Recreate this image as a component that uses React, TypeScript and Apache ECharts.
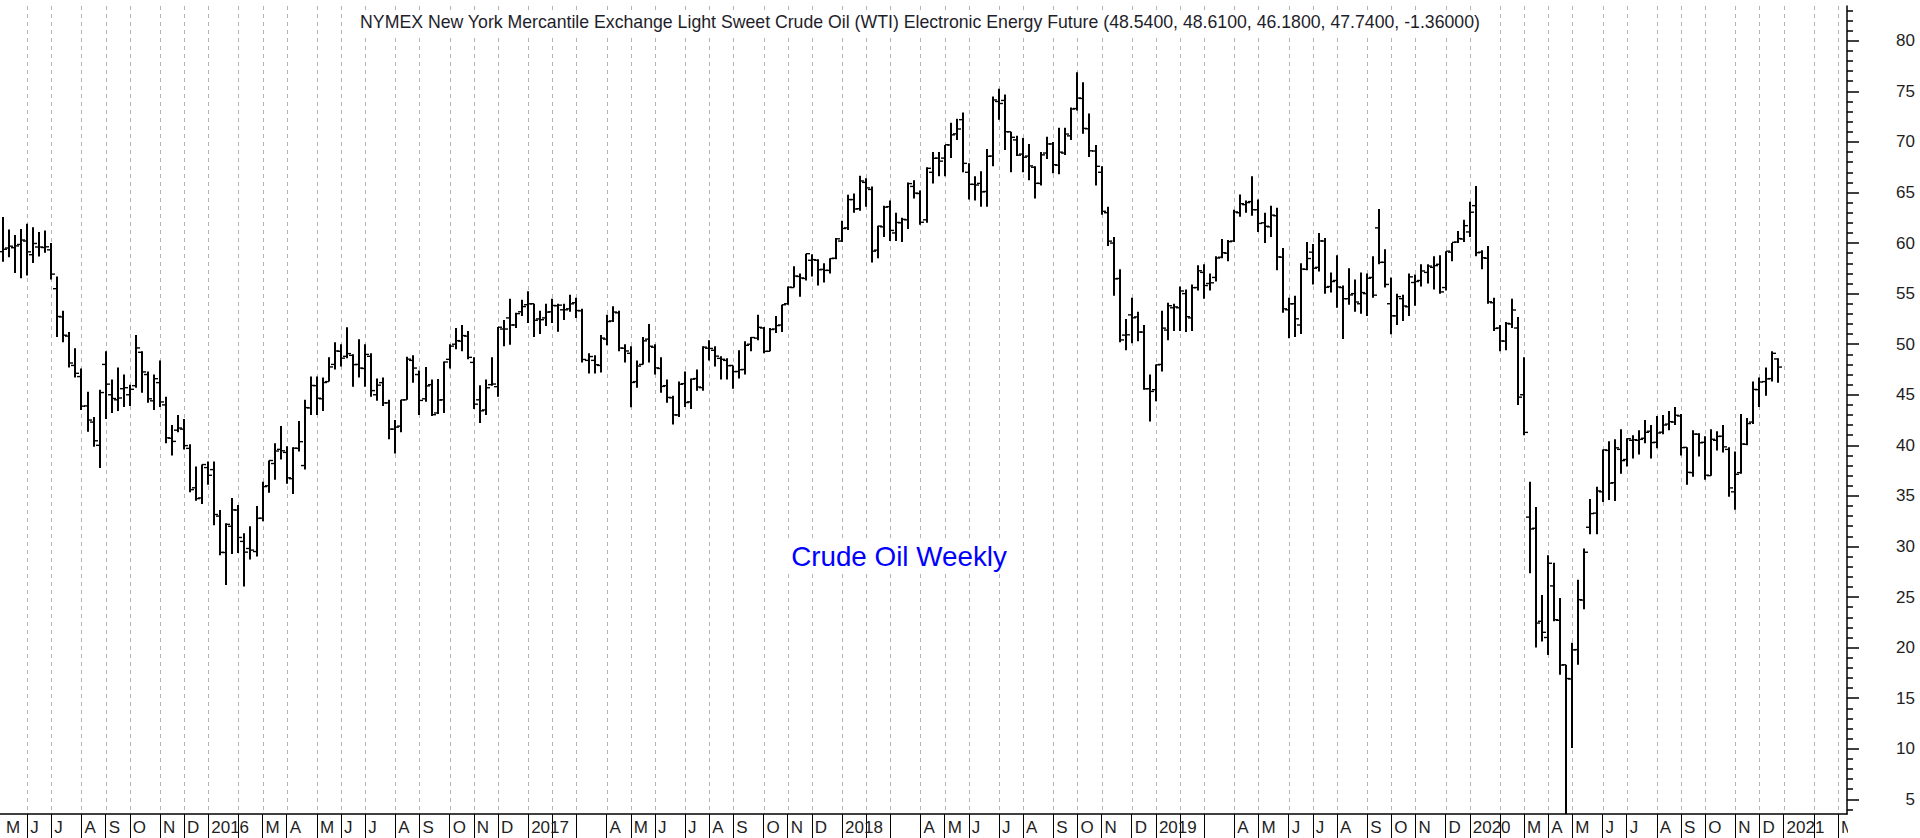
import { useEffect, useRef } from 'react';
import * as echarts from 'echarts';

// ---- categories: weekly bars (week ending Friday) ----
const START_WEEK_UTC = Date.UTC(2015, 4, 8); // week ending 2015-05-08
const WEEK_COUNT = 306; // data weeks + empty weeks up to March 2021

// ---- series values: [open, high, low, close] per week ----
const ohlc2015 = [
  [59.15, 62.58, 58.15, 59.39], [59.51, 61.35, 58.6, 59.69], [59.54, 60.8, 57.05, 59.72], [59.86, 61.4, 56.51, 60.3],
  [60.2, 61.9, 56.8, 59.13], [58.85, 61.57, 58.04, 59.96], [59.61, 61.09, 58.67, 59.61], [59.56, 61.25, 59.03, 59.63],
  [59.33, 60.0, 56.4, 56.93], [55.49, 56.7, 50.7, 52.74], [52.7, 53.3, 50.2, 50.89], [50.8, 51.2, 47.7, 48.14],
  [47.9, 49.6, 46.7, 47.12], [46.8, 47.6, 43.5, 43.87], [43.9, 45.3, 41.35, 42.5], [42.3, 42.8, 39.86, 40.45],
  [40.0, 45.5, 37.75, 45.22], [48.0, 49.3, 42.6, 46.05], [45.0, 46.5, 43.2, 44.63], [44.5, 47.7, 43.4, 44.68],
  [45.6, 47.0, 43.8, 45.7], [45.0, 46.0, 43.9, 45.54], [45.9, 50.9, 45.7, 49.63], [49.2, 49.3, 45.2, 47.26],
  [47.0, 47.3, 44.2, 44.6], [44.4, 47.0, 43.5, 46.59], [46.2, 48.4, 43.8, 44.29], [44.0, 44.8, 40.2, 40.74],
  [40.7, 42.0, 38.99, 40.39], [41.5, 43.0, 41.3, 41.71], [41.6, 42.6, 39.6, 39.97], [39.7, 40.1, 35.35, 35.62],
  [35.8, 37.9, 34.53, 34.73], [34.8, 38.1, 34.2, 38.1],
];
const ohlc2016 = [
  [37.8, 38.4, 36.1, 37.04], [37.6, 38.39, 32.1, 33.16], [33.0, 33.6, 29.13, 29.42], [29.4, 32.3, 26.19, 32.19],
  [32.0, 34.8, 29.25, 33.62], [33.6, 34.1, 29.35, 30.89], [30.5, 31.3, 26.05, 29.44], [29.8, 32.0, 28.7, 29.64],
  [29.5, 34.0, 29.0, 32.78], [32.8, 36.4, 32.5, 35.92], [36.0, 38.5, 35.3, 38.5], [38.2, 40.2, 36.6, 39.44],
  [39.6, 41.9, 38.6, 39.46], [39.3, 39.9, 36.2, 36.79], [36.7, 39.8, 35.2, 39.72], [39.7, 42.4, 39.4, 40.36],
  [38.0, 44.5, 37.6, 43.73], [43.7, 46.8, 43.0, 45.92], [45.9, 46.8, 43.0, 44.66], [44.6, 46.7, 43.4, 46.21],
  [46.3, 48.7, 46.3, 47.75], [48.0, 50.2, 47.5, 49.33], [49.3, 50.0, 47.8, 48.62], [48.8, 51.67, 48.6, 49.07],
  [48.9, 49.0, 45.8, 47.98], [48.0, 50.5, 46.7, 47.64], [47.6, 50.0, 45.8, 48.99], [48.8, 49.1, 44.8, 45.41],
  [45.0, 46.6, 44.4, 45.95], [46.2, 46.7, 43.9, 44.19], [44.2, 44.5, 40.6, 41.6], [41.6, 42.5, 39.19, 41.8],
  [41.9, 44.5, 41.3, 44.49], [44.5, 48.75, 44.5, 48.52], [48.4, 48.9, 46.2, 47.64], [47.0, 47.4, 43.0, 44.44],
  [44.6, 47.75, 44.3, 45.88], [46.0, 46.5, 42.9, 43.03], [43.2, 46.55, 43.1, 44.48], [44.5, 48.3, 43.2, 48.24],
  [48.5, 50.0, 47.6, 49.81], [50.0, 51.6, 49.5, 50.35], [50.3, 51.9, 49.3, 50.85], [50.8, 51.3, 48.5, 48.7],
  [48.2, 48.7, 43.6, 44.07], [44.5, 45.95, 42.2, 43.41], [43.5, 46.5, 43.0, 45.69], [46.0, 48.7, 45.9, 46.06],
  [45.8, 51.7, 44.8, 51.68], [51.5, 52.4, 49.8, 51.5], [52.6, 54.5, 49.95, 51.9], [51.9, 53.1, 51.6, 53.02],
  [53.2, 54.4, 52.8, 53.72],
];
const ohlc2017 = [
  [53.9, 55.24, 52.1, 53.99], [54.0, 54.0, 50.71, 52.37], [52.5, 53.3, 51.0, 52.42], [52.6, 54.0, 51.8, 53.17],
  [53.2, 54.5, 52.1, 53.83], [53.8, 54.0, 51.22, 53.86], [53.4, 54.0, 52.4, 53.4], [53.5, 54.9, 53.2, 53.99],
  [54.1, 54.6, 52.6, 53.33], [53.3, 53.5, 48.2, 48.49], [48.4, 49.1, 47.1, 48.78], [48.4, 48.9, 47.1, 47.97],
  [47.9, 50.9, 47.2, 50.6], [50.5, 52.9, 49.9, 52.24], [52.3, 53.76, 52.2, 53.18], [53.1, 53.3, 49.3, 49.62],
  [49.6, 50.0, 48.2, 49.33], [49.1, 49.8, 43.76, 46.22], [46.3, 48.4, 45.7, 47.84], [48.0, 50.7, 48.0, 50.33],
  [50.5, 52.0, 48.2, 49.8], [49.7, 50.0, 47.0, 47.66], [47.6, 48.7, 45.2, 45.83], [45.9, 46.5, 44.2, 44.74],
  [44.7, 44.9, 42.05, 43.01], [43.0, 46.3, 42.8, 46.04], [46.1, 47.3, 43.8, 44.23], [44.3, 46.6, 43.6, 46.54],
  [46.6, 47.5, 45.4, 45.77], [45.7, 49.8, 45.4, 49.71], [49.6, 50.4, 48.4, 49.58], [49.4, 49.8, 47.8, 48.82],
  [48.6, 48.8, 46.5, 48.51], [48.4, 48.6, 46.5, 47.87], [47.9, 47.9, 45.6, 47.29], [47.3, 49.4, 46.6, 47.48],
  [47.5, 50.3, 47.0, 49.89], [50.0, 50.7, 49.3, 50.66], [50.6, 52.9, 50.4, 51.67], [51.6, 51.7, 49.1, 49.29],
  [49.3, 51.6, 49.3, 51.45], [51.5, 52.8, 51.1, 51.84], [51.9, 53.9, 51.2, 53.9], [54.0, 55.7, 53.9, 55.64],
  [55.6, 57.7, 55.6, 56.74], [56.7, 57.0, 54.7, 56.55], [56.5, 58.95, 56.3, 58.95], [58.3, 58.9, 56.7, 58.36],
  [58.3, 58.4, 55.8, 57.36], [57.4, 58.0, 56.1, 57.3], [57.3, 58.5, 57.0, 58.47], [58.5, 60.5, 58.4, 60.42],
];
const ohlc2018 = [
  [60.2, 62.21, 60.1, 61.44], [61.5, 64.77, 61.3, 64.3], [64.3, 64.89, 63.0, 63.37], [63.4, 66.66, 63.2, 66.14],
  [66.0, 66.4, 63.6, 65.45], [65.3, 65.6, 58.07, 59.2], [59.3, 61.7, 58.5, 61.68], [61.6, 63.7, 60.6, 63.55],
  [63.6, 64.2, 60.2, 61.25], [61.0, 63.0, 60.2, 62.04], [62.0, 62.5, 60.1, 62.34], [62.3, 66.0, 61.4, 65.88],
  [65.6, 66.2, 64.4, 64.94], [64.9, 65.2, 61.8, 62.06], [62.3, 67.5, 62.0, 67.39], [67.0, 69.0, 65.9, 68.38],
  [68.4, 69.0, 66.6, 68.1], [68.4, 69.7, 66.6, 69.72], [69.7, 71.9, 68.4, 70.7], [70.8, 72.3, 70.2, 71.28],
  [72.2, 72.9, 67.0, 67.88], [67.0, 67.9, 64.3, 65.81], [65.8, 66.6, 64.2, 65.74], [65.9, 67.1, 63.6, 65.06],
  [65.1, 69.3, 63.6, 68.58], [68.6, 74.5, 67.6, 74.15], [74.0, 75.27, 72.2, 73.8], [74.1, 74.7, 69.2, 71.01],
  [71.0, 71.0, 67.0, 70.46], [70.2, 70.6, 68.6, 68.69], [68.8, 70.4, 67.0, 68.49], [68.6, 69.8, 66.2, 67.63],
  [67.5, 67.6, 64.4, 65.91], [65.9, 69.0, 65.7, 68.72], [68.9, 70.5, 68.3, 69.8], [69.8, 70.0, 66.9, 67.75],
  [67.7, 71.4, 66.8, 68.99], [68.9, 71.4, 68.7, 70.78], [70.6, 73.4, 70.2, 73.25], [73.3, 76.9, 73.1, 74.34],
  [74.3, 75.9, 70.8, 71.34], [71.3, 72.8, 68.5, 69.12], [69.1, 69.7, 65.7, 67.59], [67.0, 67.6, 62.8, 63.14],
  [63.0, 63.6, 59.7, 60.19], [60.0, 60.6, 54.8, 56.46], [56.5, 57.4, 50.2, 50.42], [50.9, 52.5, 49.4, 50.93],
  [52.9, 54.6, 50.1, 52.61], [52.7, 53.2, 50.3, 51.2], [51.2, 51.9, 45.5, 45.59], [45.6, 47.0, 42.36, 45.33],
];
const ohlc2019 = [
  [45.5, 48.0, 44.35, 47.96], [48.0, 53.3, 47.3, 51.59], [51.4, 54.1, 50.4, 53.8], [53.6, 54.0, 51.3, 53.69],
  [53.6, 55.7, 51.3, 55.26], [55.0, 55.4, 51.2, 52.72], [52.6, 55.9, 51.3, 55.59], [55.6, 57.8, 55.3, 57.26],
  [57.1, 57.9, 54.5, 55.8], [56.0, 57.0, 55.3, 56.07], [56.6, 58.7, 56.2, 58.52], [58.6, 60.4, 58.5, 59.04],
  [59.0, 60.3, 58.2, 60.14], [60.2, 63.3, 60.1, 63.08], [63.0, 64.8, 62.6, 63.89], [63.8, 64.2, 63.0, 64.0],
  [64.1, 66.6, 62.7, 63.3], [63.3, 64.3, 61.1, 61.94], [62.0, 63.0, 60.0, 61.66], [61.6, 63.7, 60.6, 62.76],
  [62.7, 63.5, 57.3, 58.63], [58.6, 59.5, 53.1, 53.5], [53.4, 54.6, 50.6, 53.99], [54.0, 54.8, 50.72, 52.51],
  [51.9, 58.0, 51.0, 57.43], [57.4, 60.1, 57.3, 58.47], [59.1, 59.9, 55.9, 57.51], [57.6, 61.0, 57.2, 60.21],
  [60.2, 60.5, 55.0, 55.63], [55.7, 57.1, 55.1, 56.2], [56.3, 58.8, 53.6, 55.66], [55.6, 55.8, 50.52, 54.5],
  [54.5, 57.5, 53.9, 54.87], [55.0, 56.4, 53.2, 54.17], [54.0, 57.1, 53.0, 55.1], [55.0, 57.0, 52.8, 56.52],
  [56.6, 58.7, 54.6, 54.85], [61.5, 63.38, 57.9, 58.09], [58.1, 59.4, 55.6, 55.91], [54.0, 56.6, 50.99, 52.81],
  [52.8, 55.0, 51.9, 54.7], [54.5, 54.9, 52.3, 53.78], [53.7, 57.0, 52.8, 56.66], [56.1, 56.9, 53.8, 56.2],
  [56.3, 57.9, 55.7, 57.24], [57.1, 57.9, 56.0, 57.72], [57.6, 58.7, 55.4, 57.77], [57.9, 58.8, 55.0, 55.17],
  [55.6, 59.2, 55.3, 59.2], [59.1, 60.0, 58.2, 60.07], [60.1, 61.2, 60.0, 60.44], [60.4, 62.3, 60.1, 61.72],
];
const ohlc2020 = [
  [61.1, 64.09, 60.6, 63.05], [63.7, 65.65, 58.7, 59.04], [59.1, 59.3, 57.4, 58.54], [58.5, 59.7, 54.0, 54.19],
  [54.1, 54.6, 51.3, 51.56], [51.6, 51.9, 49.31, 50.32], [50.3, 52.2, 49.4, 52.05], [52.0, 54.5, 51.6, 53.38],
  [51.6, 52.7, 44.0, 44.76], [45.0, 48.7, 41.0, 41.28], [32.9, 36.4, 27.34, 31.73], [31.8, 33.9, 20.0, 22.43],
  [22.6, 25.2, 20.6, 21.51], [21.0, 29.13, 19.27, 28.34], [26.1, 28.4, 22.6, 22.76], [22.7, 24.9, 17.31, 18.27],
  [18.3, 18.3, -40.32, 16.94], [16.9, 20.48, 10.07, 19.78], [19.8, 26.7, 18.3, 24.74], [24.7, 29.8, 23.8, 29.43],
  [31.9, 34.7, 31.2, 33.25], [33.3, 35.9, 31.2, 35.49], [35.4, 39.6, 34.4, 39.55], [39.5, 40.4, 34.6, 36.26],
  [36.3, 40.6, 34.5, 39.75], [39.6, 41.6, 37.2, 38.49], [38.6, 40.7, 37.9, 40.65], [40.5, 41.0, 38.7, 40.55],
  [40.5, 41.5, 39.1, 40.59], [40.7, 42.5, 40.2, 41.29], [41.4, 42.0, 38.7, 40.27], [40.3, 42.9, 39.7, 41.22],
  [41.3, 43.0, 41.1, 42.01], [42.1, 43.4, 41.5, 42.34], [42.3, 43.8, 42.0, 42.97], [42.9, 43.1, 39.0, 39.77],
  [39.8, 39.8, 36.1, 37.33], [37.3, 41.5, 36.9, 41.11], [41.1, 41.2, 38.9, 40.25], [40.3, 40.9, 36.6, 37.05],
  [37.0, 41.6, 37.0, 40.6], [40.5, 41.4, 39.5, 40.88], [40.9, 42.0, 39.3, 39.85], [39.6, 39.8, 34.92, 35.79],
  [35.4, 39.4, 33.64, 37.14], [37.3, 43.1, 37.2, 40.13], [40.1, 42.7, 40.0, 42.15], [42.3, 46.3, 42.1, 45.53],
  [45.5, 46.7, 43.8, 46.26], [46.3, 47.7, 44.9, 46.57], [46.6, 49.3, 46.3, 49.1], [48.54, 48.61, 46.18, 47.74],
];

// ---- tick labels ----
const MONTH_LETTERS = ['J', 'F', 'M', 'A', 'M', 'J', 'J', 'A', 'S', 'O', 'N', 'D'];
const MAJOR_TICKS = [5, 10, 15, 20, 25, 30, 35, 40, 45, 50, 55, 60, 65, 70, 75, 80];
const MINOR_TICKS = [
  4, 6, 7, 8, 9, 11, 12, 13, 14, 16, 17, 18, 19, 21, 22, 23, 24, 26, 27, 28, 29, 31, 32, 33, 34,
  36, 37, 38, 39, 41, 42, 43, 44, 46, 47, 48, 49, 51, 52, 53, 54, 56, 57, 58, 59, 61, 62, 63, 64,
  66, 67, 68, 69, 71, 72, 73, 74, 76, 77, 78, 79, 81, 82, 83,
];
const TITLE_TEXT =
  'NYMEX New York Mercantile Exchange Light Sweet Crude Oil (WTI) Electronic Energy Future (48.5400, 48.6100, 46.1800, 47.7400, -1.36000)';
const NOTE_TEXT = 'Crude Oil Weekly';

const Y_MIN = 3.547;
const Y_MAX = 83.44;

function buildWeeks() {
  const out: { label: string; year: number; month: number }[] = [];
  for (let i = 0; i < WEEK_COUNT; i++) {
    const d = new Date(START_WEEK_UTC + i * 7 * 86400000);
    out.push({ label: d.toISOString().slice(0, 10), year: d.getUTCFullYear(), month: d.getUTCMonth() });
  }
  return out;
}

export default function App() {
  const ref = useRef<HTMLDivElement>(null);

  useEffect(() => {
    if (!ref.current) return;
    const chart = echarts.init(ref.current, undefined, { renderer: 'svg' });

    const weeks = buildWeeks();
    const categories = weeks.map((w) => w.label);
    const tickIdx: number[] = [];
    const labelMap: Record<number, string> = {};
    labelMap[0] = MONTH_LETTERS[weeks[0].month];
    let lastJan = -100;
    for (let i = 1; i < weeks.length; i++) {
      if (weeks[i].month !== weeks[i - 1].month) {
        tickIdx.push(i);
        const m = weeks[i].month;
        if (m === 0) {
          labelMap[i] = String(weeks[i].year);
          lastJan = i;
        } else if (m === 1) {
          labelMap[i] = '';
        } else if (m === 2) {
          labelMap[i] = i - lastJan < 9 ? '' : MONTH_LETTERS[m];
        } else {
          labelMap[i] = MONTH_LETTERS[m];
        }
      }
    }
    const tickSet = new Set(tickIdx);

    const bars = [...ohlc2015, ...ohlc2016, ...ohlc2017, ...ohlc2018, ...ohlc2019, ...ohlc2020].map((b, i) => [
      i,
      b[0],
      b[1],
      b[2],
      b[3],
    ]);
    const gridData = tickIdx.map((i) => [i, Y_MIN]);

    const font = '"Liberation Sans", Arial, sans-serif';
    const textColor = '#1e1e1e';

    chart.setOption({
      animation: false,
      backgroundColor: '#ffffff',
      grid: { left: 0, right: 73, top: 6, bottom: 24, containLabel: false, outerBoundsMode: 'none' },
      xAxis: {
        type: 'category',
        data: categories,
        boundaryGap: true,
        axisLine: { show: true, lineStyle: { color: '#000', width: 1.5 } },
        axisTick: {
          show: true,
          alignWithLabel: true,
          interval: (index: number) => tickSet.has(index),
          length: 24,
          lineStyle: { color: '#000', width: 1 },
        },
        axisLabel: {
          show: true,
          interval: (index: number) => !!labelMap[index],
          formatter: (_v: string, index: number) => labelMap[index] || '',
          align: 'left',
          padding: [0, 0, 0, 3],
          margin: 5,
          fontSize: 17,
          fontFamily: font,
          color: textColor,
        },
        splitLine: { show: false },
      },
      yAxis: [
        {
          type: 'value',
          position: 'right',
          min: Y_MIN,
          max: Y_MAX,
          splitNumber: 16,
          axisLine: { show: true, lineStyle: { color: '#000', width: 1.5 } },
          axisTick: { show: true, inside: false, length: 12, customValues: MAJOR_TICKS, lineStyle: { color: '#000', width: 1.5 } },
          axisLabel: {
            show: true,
            customValues: MAJOR_TICKS,
            align: 'right',
            margin: 68,
            fontSize: 17,
            fontFamily: font,
            color: textColor,
          },
          splitLine: { show: false },
        },
        {
          type: 'value',
          position: 'right',
          min: Y_MIN,
          max: Y_MAX,
          axisLine: { show: false },
          axisTick: { show: true, inside: false, length: 6, customValues: MINOR_TICKS, lineStyle: { color: '#000', width: 1.5 } },
          axisLabel: { show: false },
          splitLine: { show: false },
        },
      ],
      series: [
        {
          type: 'custom',
          name: 'monthGrid',
          data: gridData,
          encode: { x: 0, y: 1 },
          silent: true,
          renderItem: (_p: any, api: any) => {
            const idx = api.value(0);
            const top = api.coord([idx, Y_MAX]);
            const bot = api.coord([idx, Y_MIN]);
            const x = Math.round(top[0]) + 0.5;
            return {
              type: 'line',
              shape: { x1: x, y1: top[1], x2: x, y2: bot[1] },
              style: { stroke: '#b4b4b4', lineWidth: 1, lineDash: [4, 4] },
            };
          },
        },
        {
          type: 'custom',
          name: 'WTI',
          data: bars,
          encode: { x: 0, y: [1, 2, 3, 4] },
          clip: true,
          renderItem: (_p: any, api: any) => {
            const idx = api.value(0);
            const ph = api.coord([idx, api.value(2)]);
            const pl = api.coord([idx, api.value(3)]);
            const po = api.coord([idx, api.value(1)]);
            const pc = api.coord([idx, api.value(4)]);
            const x = Math.round(ph[0]);
            return {
              type: 'group',
              children: [
                { type: 'line', shape: { x1: x, y1: ph[1], x2: x, y2: pl[1] }, style: { stroke: '#000', lineWidth: 2 } },
                { type: 'line', shape: { x1: x - 4, y1: po[1], x2: x, y2: po[1] }, style: { stroke: '#000', lineWidth: 1.4 } },
                { type: 'line', shape: { x1: x, y1: pc[1], x2: x + 4, y2: pc[1] }, style: { stroke: '#000', lineWidth: 1.4 } },
              ],
            };
          },
        },
      ],
      graphic: [
        {
          type: 'text',
          x: 920,
          y: 22,
          z: 100,
          style: {
            text: TITLE_TEXT,
            font: `17.7px ${font}`,
            fill: '#1e1e2a',
            align: 'center',
            verticalAlign: 'middle',
            backgroundColor: '#ffffff',
            padding: [3, 4],
          },
        },
        {
          type: 'text',
          x: 899,
          y: 556,
          z: 100,
          style: {
            text: NOTE_TEXT,
            font: `27.8px ${font}`,
            fill: '#0000ff',
            align: 'center',
            verticalAlign: 'middle',
            backgroundColor: '#ffffff',
            padding: [3, 4],
          },
        },
        {
          type: 'rect',
          z: 100,
          shape: { x: 1848, y: 815, width: 72, height: 23 },
          style: { fill: '#ffffff' },
        },
      ],
    });

    return () => {
      chart.dispose();
    };
  }, []);

  return (
    <div
      ref={ref}
      style={{ position: 'fixed', left: 0, top: 0, width: 1920, height: 838, background: '#fff' }}
    />
  );
}
